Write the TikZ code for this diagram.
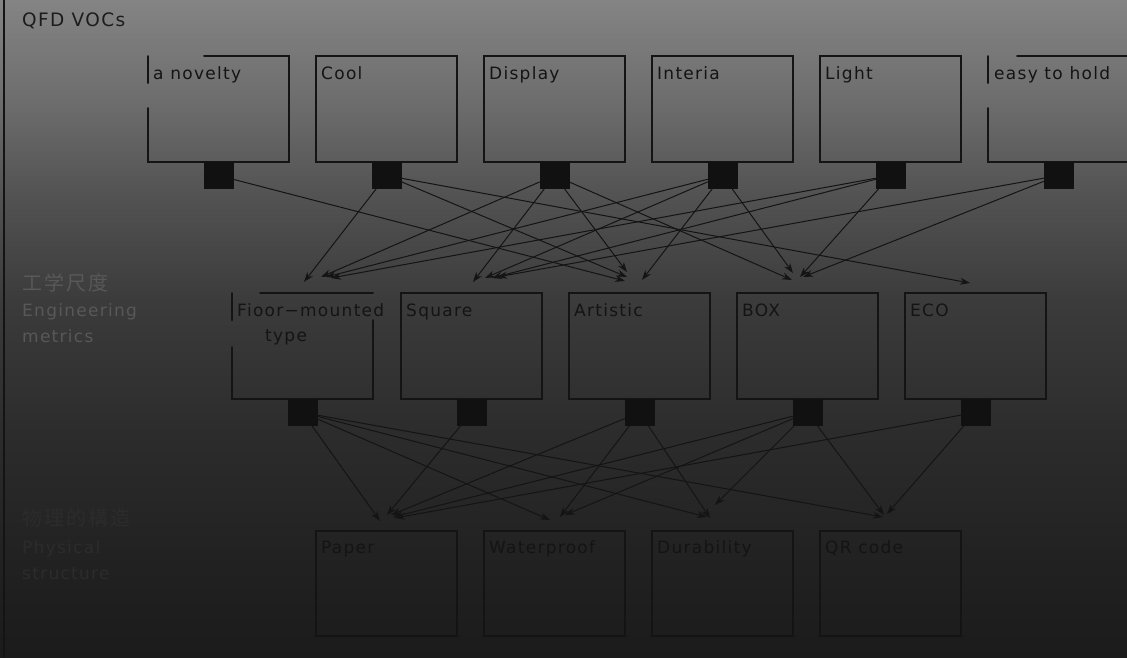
\documentclass[tikz,border=0pt]{standalone}
\usepackage{fontspec}
\setmainfont{DejaVu Sans}[LetterSpace=7.5]
\newfontfamily\jpfont{Noto Sans CJK JP}[LetterSpace=10]
\usepackage{tikz}
\usetikzlibrary{arrows.meta}
\usetikzlibrary{shapes,positioning}
\definecolor{bgA}{HTML}{848484}
\definecolor{bgB}{HTML}{6C6C6C}
\definecolor{bgC}{HTML}{525252}
\definecolor{bgD}{HTML}{3B3B3B}
\definecolor{bgE}{HTML}{2C2C2C}
\definecolor{bgF}{HTML}{222222}
\definecolor{bgG}{HTML}{1B1B1B}
\definecolor{inkline}{HTML}{141414}
\definecolor{portfill}{HTML}{111111}
\definecolor{textdark}{HTML}{1C1C1C}
\definecolor{textmid}{HTML}{585858}
\definecolor{textlow}{HTML}{2C2C2C}
\pgfdeclareverticalshading{bgshade}{100bp}{color(0bp)=(bgG); color(25bp)=(bgG);
  color(33bp)=(bgF); color(42bp)=(bgE); color(52bp)=(bgD); color(60bp)=(bgC);
  color(67bp)=(bgB); color(75bp)=(bgA); color(100bp)=(bgA)}
\tikzset{>={Stealth[length=10pt,width=7pt]},
  vocbox/.style={draw=inkline, line width=2pt, minimum width=141pt,
    minimum height=106pt, inner sep=0pt, outer sep=0pt, anchor=north west},
  port/.style={fill=portfill, minimum width=30pt, minimum height=27pt,
    inner sep=0pt, outer sep=0pt, anchor=north},
  boxline/.style={draw=inkline, line width=2pt},
  link/.style={->, draw=inkline, line width=1pt},
  boxtext/.style={anchor=base west, inner sep=0pt, text=inkline,
    font=\fontsize{17}{20}\selectfont},
  sidetext/.style={anchor=base west, inner sep=0pt,
    font=\fontsize{17}{20}\selectfont},
  jptext/.style={anchor=base west, inner sep=0pt,
    font=\jpfont\fontsize{20}{24}\selectfont}}

\begin{document}
\begin{tikzpicture}[x=1pt,y=-1pt,line cap=round]

  \useasboundingbox (0,0) rectangle (1127,657);
  \shade [shading=bgshade] (0,0) rectangle (1127,657);
  \draw [inkline, line width=1.5pt] (4,0) -- (4,657);

  \node [sidetext, text=textdark, font=\fontsize{18.5}{22}\selectfont] (qfd) at (22,26) {QFD VOCs};
  \node [jptext, text=textmid] (eng-jp) at (22,290) {工学尺度};
  \node [sidetext, text=textmid] (eng) at (22,316) {Engineering};
  \node [sidetext, text=textmid] (eng2) at ([shift={(0,26)}]eng.base west) {metrics};
  \node [jptext, text=textlow] (phys-jp) at (22,525) {物理的構造};
  \node [sidetext, text=textlow] (phys) at (22,553) {Physical};
  \node [sidetext, text=textlow] (phys2) at ([shift={(0,26)}]phys.base west) {structure};

  \node [vocbox, draw=none] (novelty) at (148,56) {};
  \node [vocbox] (cool) at (316,56) {};
  \node [vocbox] (display) at (484,56) {};
  \node [vocbox] (interia) at (652,56) {};
  \node [vocbox] (light) at (820,56) {};
  \node [vocbox, draw=none] (hold) at (988,56) {};

  \draw [boxline] (204,56) -- (289,56) -- (289,162) -- (148,162) -- (148,108);
  \draw [boxline] (148,56) -- (148,83);
  \draw [boxline] (1017,56) -- (1129,56) -- (1129,162) -- (988,162) -- (988,108);
  \draw [boxline] (988,56) -- (988,83);

  \node [boxtext] (novelty-t) at ([shift={(5,23)}]novelty.north west) {a novelty};
  \node [boxtext] (cool-t) at ([shift={(5,23)}]cool.north west) {Cool};
  \node [boxtext] (display-t) at ([shift={(5,23)}]display.north west) {Display};
  \node [boxtext] (interia-t) at ([shift={(5,23)}]interia.north west) {Interia};
  \node [boxtext] (light-t) at ([shift={(5,23)}]light.north west) {Light};
  \node [boxtext] (hold-t) at ([shift={(6,23)}]hold.north west) {easy to hold};

  \node [port] (novelty-p) at (novelty.south) {};
  \node [port] (cool-p) at (cool.south) {};
  \node [port] (display-p) at (display.south) {};
  \node [port] (interia-p) at (interia.south) {};
  \node [port] (light-p) at (light.south) {};
  \node [port] (hold-p) at (hold.south) {};

  \node [vocbox, draw=none] (fioor) at (232,293) {};
  \node [vocbox] (square) at (401,293) {};
  \node [vocbox] (artistic) at (569,293) {};
  \node [vocbox] (box) at (737,293) {};
  \node [vocbox] (eco) at (905,293) {};

  \draw [boxline] (260,293) -- (373,293);
  \draw [boxline] (373,320) -- (373,399) -- (232,399) -- (232,347);
  \draw [boxline] (232,293) -- (232,320);

  \node [boxtext] (fioor-t) at ([shift={(5,23)}]fioor.north west) {Fioor−mounted};
  \node [boxtext] (fioor-t2) at ([shift={(28,25)}]fioor-t.base west) {type};
  \node [boxtext] (square-t) at ([shift={(5,23)}]square.north west) {Square};
  \node [boxtext] (artistic-t) at ([shift={(5,23)}]artistic.north west) {Artistic};
  \node [boxtext] (box-t) at ([shift={(5,23)}]box.north west) {BOX};
  \node [boxtext] (eco-t) at ([shift={(5,23)}]eco.north west) {ECO};

  \node [port] (fioor-p) at (fioor.south) {};
  \node [port] (square-p) at (square.south) {};
  \node [port] (artistic-p) at (artistic.south) {};
  \node [port] (box-p) at (box.south) {};
  \node [port] (eco-p) at (eco.south) {};

  \node [vocbox, minimum height=105pt] (paper) at (316,531) {};
  \node [vocbox, minimum height=105pt] (water) at (484,531) {};
  \node [vocbox, minimum height=105pt] (durab) at (652,531) {};
  \node [vocbox, minimum height=105pt] (qr) at (820,531) {};

  \node [boxtext] (paper-t) at ([shift={(5,22)}]paper.north west) {Paper};
  \node [boxtext] (water-t) at ([shift={(5,22)}]water.north west) {Waterproof};
  \node [boxtext] (durab-t) at ([shift={(5,22)}]durab.north west) {Durability};
  \node [boxtext] (qr-t) at ([shift={(5,22)}]qr.north west) {QR code};

  \draw [link] (novelty-p) -- ([shift={(-14.5,-12)}]artistic.north);
  \draw [link] (cool-p) -- ([shift={(1.5,-11)}]fioor.north);
  \draw [link] (cool-p) -- ([shift={(-12.5,-16)}]artistic.north);
  \draw [link] (cool-p) -- ([shift={(-5.5,-10)}]eco.north);
  \draw [link] (display-p) -- ([shift={(18.5,-16)}]fioor.north);
  \draw [link] (display-p) -- ([shift={(1.5,-11)}]square.north);
  \draw [link] (display-p) -- ([shift={(-12.5,-21)}]artistic.north);
  \draw [link] (display-p) -- ([shift={(-15.5,-13)}]box.north);
  \draw [link] (interia-p) -- ([shift={(23.5,-16)}]fioor.north);
  \draw [link] (interia-p) -- ([shift={(13.5,-15)}]square.north);
  \draw [link] (interia-p) -- ([shift={(2.5,-13)}]artistic.north);
  \draw [link] (interia-p) -- ([shift={(-14.5,-20)}]box.north);
  \draw [link] (light-p) -- ([shift={(28.5,-15)}]fioor.north);
  \draw [link] (light-p) -- ([shift={(20.5,-15)}]square.north);
  \draw [link] (light-p) -- ([shift={(-7.5,-16)}]box.north);
  \draw [link] (hold-p) -- ([shift={(25.5,-16)}]square.north);
  \draw [link] (hold-p) -- ([shift={(-4.5,-16)}]box.north);

  \draw [link] (fioor-p) -- ([shift={(-6.5,-10)}]paper.north);
  \draw [link] (fioor-p) -- ([shift={(-4.5,-11)}]water.north);
  \draw [link] (fioor-p) -- ([shift={(-15.5,-14)}]durab.north);
  \draw [link] (fioor-p) -- ([shift={(-7.5,-14)}]qr.north);
  \draw [link] (square-p) -- ([shift={(0.5,-16)}]paper.north);
  \draw [link] (artistic-p) -- ([shift={(4.5,-16)}]paper.north);
  \draw [link] (artistic-p) -- ([shift={(5.5,-14)}]water.north);
  \draw [link] (artistic-p) -- ([shift={(-12.5,-13)}]durab.north);
  \draw [link] (box-p) -- ([shift={(6.5,-14)}]paper.north);
  \draw [link] (box-p) -- ([shift={(10.5,-16)}]water.north);
  \draw [link] (box-p) -- ([shift={(-7.5,-26)}]durab.north);
  \draw [link] (box-p) -- ([shift={(-6.5,-16)}]qr.north);
  \draw [link] (eco-p) -- ([shift={(8.5,-13)}]paper.north);
  \draw [link] (eco-p) -- ([shift={(-3.5,-17)}]qr.north);

\end{tikzpicture}
\end{document}
